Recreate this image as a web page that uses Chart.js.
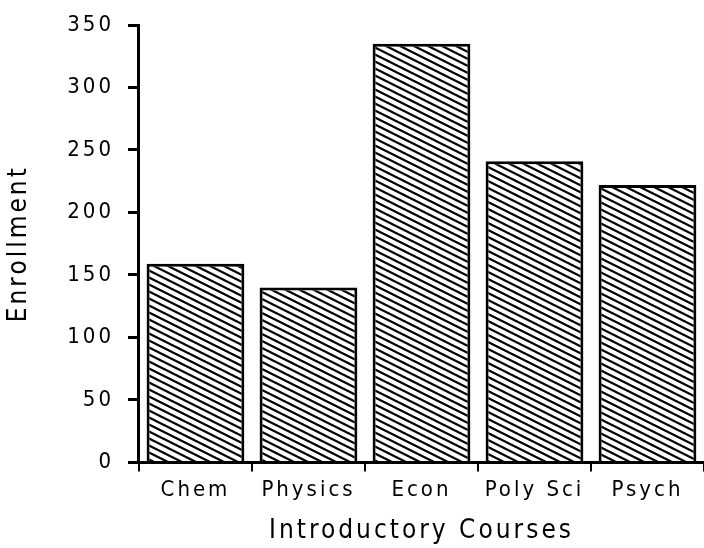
<!DOCTYPE html>
<html>
<head>
<meta charset="utf-8">
<script src="https://cdn.jsdelivr.net/npm/chart.js@4"></script>
<style>
  html, body { margin: 0; padding: 0; background: #fff; }
  #chart { display: block; }
</style>
</head>
<body>
<canvas id="chart" width="704" height="548"></canvas>
<script>
// Chart data.
const courses = ["Chem", "Physics", "Econ", "Poly Sci", "Psych"];
const enrollment = [159, 140, 335, 241, 222];
const yMax = 350;
const yStep = 50;

const FONT = "'Liberation Sans Narrow', 'DejaVu Sans Condensed', 'DejaVu Sans', sans-serif";

// Diagonal hatch fill, like the old print-style bars.
const makeHatch = () => {
    const tile = document.createElement("canvas");
    tile.width = 14;
    tile.height = 7;
    const t = tile.getContext("2d");
    t.fillStyle = "#fff";
    t.fillRect(0, 0, 14, 7);
    t.strokeStyle = "#000";
    t.lineWidth = 2.2;
    for (let y0 = -14; y0 <= 14; y0 += 7) {
        t.beginPath();
        t.moveTo(-14, y0 - 7);
        t.lineTo(28, y0 + 14);
        t.stroke();
    }
    return document.getElementById("chart").getContext("2d").createPattern(tile, "repeat");
};

// wide letter spacing, the source uses a spread-out bitmap font
const tracking = {
    id: "tracking",
    beforeUpdate(chart) { chart.ctx.letterSpacing = "3px"; },
    beforeDraw(chart) { chart.ctx.letterSpacing = "3px"; },
};

const ctx = document.getElementById("chart").getContext("2d");
new Chart(ctx, {
    type: "bar",
    data: {
        labels: courses,
        datasets: [{
            label: "Enrollment",
            data: enrollment,
            backgroundColor: makeHatch(),
            borderColor: "#000",
            borderWidth: 3,
            categoryPercentage: 1.0,
            barPercentage: 0.865,
        }],
    },
    options: {
        responsive: false,
        animation: false,
        layout: { padding: { top: 6, right: 0, left: 4, bottom: 1 } },
        plugins: {
            legend: { display: false },
            tooltip: { enabled: false },
        },
        scales: {
            x: {
                grid: {
                    drawOnChartArea: false, color: "#000", lineWidth: 2, tickLength: 9,
                },
                border: { color: "#000", width: 3 },
                ticks: { color: "#000", font: { family: FONT, size: 22 }, padding: 6 },
                title: {
                    display: true, text: "Introductory Courses", color: "#000",
                    font: { family: FONT, size: 26 }, padding: { top: 6, bottom: 0 },
                },
            },
            y: {
                min: 0, max: yMax,
                grid: {
                    drawOnChartArea: false, color: "#000", lineWidth: 3, tickLength: 11,
                },
                border: { color: "#000", width: 3 },
                ticks: {
                    stepSize: yStep, color: "#000", padding: 14,
                    font: { family: FONT, size: 22, lineHeight: 1.0 },
                },
                title: {
                    display: true, text: "Enrollment", color: "#000",
                    font: { family: FONT, size: 26 }, padding: { top: 0, bottom: 18 },
                },
            },
        },
    },
    plugins: [tracking],
});
</script>
</body>
</html>
